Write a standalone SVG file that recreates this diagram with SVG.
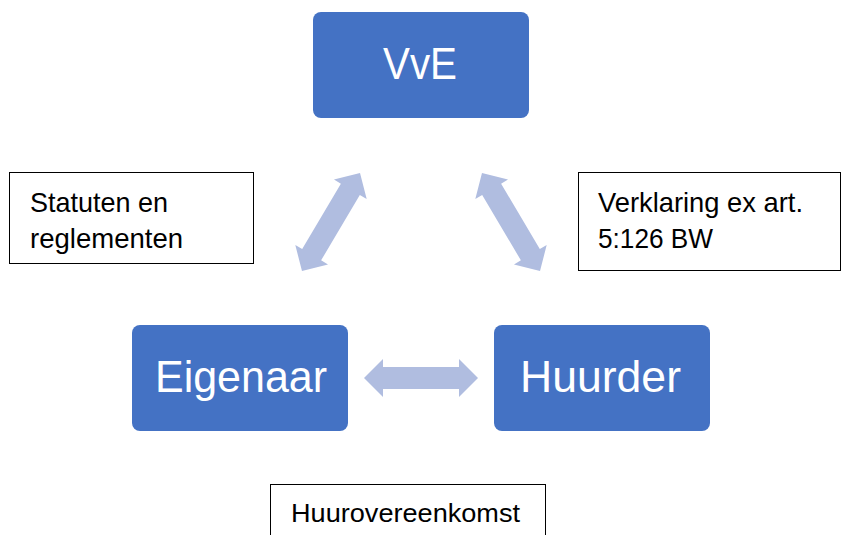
<svg xmlns="http://www.w3.org/2000/svg" width="842" height="535" viewBox="0 0 842 535">
  <style>
    .node rect { fill: #4472C4; }
    .node text { fill: #FFFFFF; font-family: "Liberation Sans", Arial, sans-serif; font-size: 45px; text-anchor: middle; }
    .note rect { fill: #FFFFFF; stroke: #000000; stroke-width: 1; }
    .note text { fill: #000000; font-family: "Liberation Sans", Arial, sans-serif; font-size: 28px; }
    .arrow { fill: #B0BDE0; }
  </style>
  <defs>
    <path id="dblarrow" d="M-57,0 L-38,-19 L-38,-11 L38,-11 L38,-19 L57,0 L38,19 L38,11 L-38,11 L-38,19 Z"/>
  </defs>
  <rect width="842" height="535" fill="#FFFFFF"/>

  <g id="connectors">
    <use href="#dblarrow" class="arrow" transform="translate(331,222) rotate(-59.4)"/>
    <use href="#dblarrow" class="arrow" transform="translate(511,222) rotate(59.4)"/>
    <use href="#dblarrow" class="arrow" transform="translate(421,378)"/>
  </g>

  <g id="node-vve" class="node">
    <rect x="313" y="12" width="216" height="106" rx="8" ry="8"/>
    <text x="420" y="79" textLength="74" lengthAdjust="spacingAndGlyphs">VvE</text>
  </g>
  <g id="node-eigenaar" class="node">
    <rect x="132" y="325" width="216" height="106" rx="8" ry="8"/>
    <text x="241" y="392" textLength="172" lengthAdjust="spacingAndGlyphs">Eigenaar</text>
  </g>
  <g id="node-huurder" class="node">
    <rect x="494" y="325" width="216" height="106" rx="8" ry="8"/>
    <text x="600.5" y="392" textLength="161" lengthAdjust="spacingAndGlyphs">Huurder</text>
  </g>

  <g id="note-statuten" class="note">
    <rect x="9.5" y="172.5" width="244" height="91"/>
    <text x="30" y="212" textLength="138" lengthAdjust="spacingAndGlyphs">Statuten en</text>
    <text x="30" y="248" textLength="153" lengthAdjust="spacingAndGlyphs">reglementen</text>
  </g>
  <g id="note-verklaring" class="note">
    <rect x="578.5" y="172.5" width="262" height="98"/>
    <text x="598" y="212" textLength="205" lengthAdjust="spacingAndGlyphs">Verklaring ex art.</text>
    <text x="598" y="248" textLength="115" lengthAdjust="spacingAndGlyphs">5:126 BW</text>
  </g>
  <g id="note-huurovereenkomst" class="note">
    <rect x="270.5" y="484.5" width="275" height="60"/>
    <text x="291" y="522" style="font-size:26px" textLength="229" lengthAdjust="spacingAndGlyphs">Huurovereenkomst</text>
  </g>
</svg>
